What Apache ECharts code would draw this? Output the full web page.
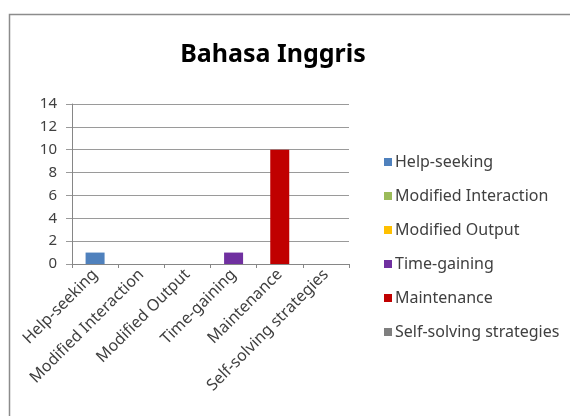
<!DOCTYPE html>
<html>
<head>
<meta charset="utf-8">
<script src="https://cdn.jsdelivr.net/npm/echarts@6/dist/echarts.min.js"></script>
<style>html,body{margin:0;padding:0;background:#fff;}#c{width:570px;height:416px;}</style>
</head>
<body>
<div id="c"></div>
<script>
var categories = ['Help-seeking', 'Modified Interaction', 'Modified Output', 'Time-gaining', 'Maintenance', 'Self-solving strategies'];
var values = [1, 0, 0, 1, 10, 0];
var colors = ['#4F81BD', '#9BBB59', '#FFC000', '#7030A0', '#C00000', '#7F7F7F'];
var yTicks = [0, 2, 4, 6, 8, 10, 12, 14];

var FONT = 'Noto Sans';
var chart = echarts.init(document.getElementById('c'));
var series = categories.map(function (name, i) {
  return {
    name: name,
    type: 'bar',
    stack: 'all',
    barWidth: 19,
    itemStyle: { color: colors[i] },
    data: categories.map(function (c, j) { return j === i ? values[i] : '-'; })
  };
});
chart.setOption({
  animation: false,
  textStyle: { fontFamily: FONT },
  title: {
    text: 'Bahasa Inggris',
    left: 268,
    top: 37,
    textAlign: 'center',
    textStyle: { fontFamily: FONT, fontSize: 25, fontWeight: 'bold', color: '#000' }
  },
  graphic: [{
    type: 'rect',
    shape: { x: 9.5, y: 14.5, width: 700, height: 600 },
    style: { fill: 'none', stroke: '#8c8c8c', lineWidth: 1.5 }
  }],
  legend: {
    orient: 'vertical',
    left: 379,
    top: 148,
    icon: 'rect',
    itemWidth: 8,
    itemHeight: 8,
    itemGap: 16,
    data: categories,
    textStyle: { fontFamily: FONT, fontSize: 16, color: '#404040', lineHeight: 18, padding: [0, 0, 0, -2] }
  },
  grid: { left: 72, right: 221, top: 104, bottom: 152, containLabel: false },
  xAxis: {
    type: 'category',
    data: categories,
    axisLine: { lineStyle: { color: '#868686' } },
    axisTick: { show: true, length: 4, lineStyle: { color: '#868686' } },
    axisLabel: { interval: 0, rotate: 45, fontSize: 16, color: '#404040', fontFamily: FONT, margin: 8 }
  },
  yAxis: {
    type: 'value',
    min: yTicks[0],
    max: yTicks[yTicks.length - 1],
    interval: 2,
    axisLine: { show: true, lineStyle: { color: '#868686' } },
    axisTick: { show: true, length: 6, lineStyle: { color: '#9a9a9a' } },
    splitLine: { lineStyle: { color: '#9a9a9a' } },
    axisLabel: { fontSize: 15, color: '#404040', fontFamily: FONT, margin: 15 }
  },
  series: series
});
</script>
</body>
</html>
